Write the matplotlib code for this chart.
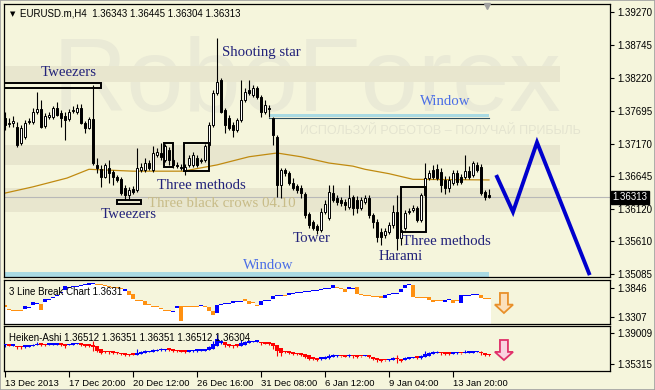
import numpy as np
import matplotlib.pyplot as plt
from matplotlib.patches import Rectangle, FancyArrow

plt.rcParams['font.family'] = ['Liberation Sans', 'DejaVu Sans']

BG = '#F5F5DC'
SERIF = ['Liberation Serif', 'DejaVu Serif']

# EURUSD.m H4 candles, 13 Dec 2013 .. 14 Jan 2014
opens = [
    1.3758, 1.3748, 1.3750, 1.3744, 1.3718, 1.3728, 1.3751, 1.3751, 1.3767, 1.3772,
    1.3745, 1.3760, 1.3760, 1.3774, 1.3766, 1.3761, 1.3756, 1.3769, 1.3767, 1.3774,
    1.3750, 1.3742, 1.3756, 1.3683, 1.3676, 1.3664, 1.3678, 1.3672, 1.3664, 1.3660,
    1.3646, 1.3635, 1.3645, 1.3643, 1.3675, 1.3675, 1.3686, 1.3675, 1.3699, 1.3702,
    1.3691, 1.3707, 1.3691, 1.3683, 1.3680, 1.3673, 1.3683, 1.3683, 1.3694, 1.3689,
    1.3691, 1.3715, 1.3747, 1.3798, 1.3819, 1.3771, 1.3758, 1.3747, 1.3739, 1.3755,
    1.3787, 1.3803, 1.3795, 1.3806, 1.3791, 1.3767, 1.3774, 1.3758, 1.3728, 1.3651,
    1.3675, 1.3670, 1.3654, 1.3649, 1.3646, 1.3636, 1.3605, 1.3592, 1.3585, 1.3579,
    1.3608, 1.3598, 1.3638, 1.3630, 1.3627, 1.3624, 1.3616, 1.3632, 1.3627, 1.3614,
    1.3624, 1.3630, 1.3603, 1.3592, 1.3576, 1.3571, 1.3576, 1.3587, 1.3608, 1.3566,
    1.3582, 1.3608, 1.3611, 1.3614, 1.3595, 1.3635, 1.3662, 1.3675, 1.3676, 1.3672,
    1.3659, 1.3646, 1.3654, 1.3670, 1.3664, 1.3664, 1.3673, 1.3667, 1.3683, 1.3680,
    1.3640, 1.36343]
highs = [
    1.3767, 1.3758, 1.3761, 1.3751, 1.3747, 1.3755, 1.3758, 1.3774, 1.3799, 1.3787,
    1.3766, 1.3767, 1.3777, 1.3783, 1.3771, 1.3767, 1.3772, 1.3777, 1.3780, 1.3780,
    1.3753, 1.3760, 1.3811, 1.3694, 1.3683, 1.3686, 1.3691, 1.3675, 1.3667, 1.3664,
    1.3651, 1.3648, 1.3649, 1.3710, 1.3686, 1.3694, 1.3691, 1.3713, 1.3710, 1.3718,
    1.3716, 1.3712, 1.3694, 1.3688, 1.3684, 1.3684, 1.3699, 1.3704, 1.3699, 1.3694,
    1.3716, 1.3751, 1.3803, 1.3886, 1.3822, 1.3774, 1.3763, 1.3751, 1.3758, 1.3819,
    1.3806, 1.3819, 1.3811, 1.3809, 1.3795, 1.3787, 1.3779, 1.3760, 1.3731, 1.3678,
    1.3678, 1.3673, 1.3662, 1.3652, 1.3651, 1.3640, 1.3608, 1.3595, 1.3589, 1.3614,
    1.3627, 1.3651, 1.3651, 1.3635, 1.3632, 1.3629, 1.3651, 1.3635, 1.3633, 1.3632,
    1.3635, 1.3635, 1.3606, 1.3597, 1.3582, 1.3582, 1.3592, 1.3619, 1.3635, 1.3587,
    1.3611, 1.3614, 1.3619, 1.3617, 1.3638, 1.3686, 1.3675, 1.3683, 1.3684, 1.3678,
    1.3665, 1.3665, 1.3675, 1.3675, 1.3668, 1.3699, 1.3681, 1.3689, 1.3688, 1.3684,
    1.3643, 1.36445]
lows = [
    1.3739, 1.3744, 1.3744, 1.3712, 1.3715, 1.3724, 1.3748, 1.3748, 1.3764, 1.3742,
    1.3742, 1.3756, 1.3756, 1.3761, 1.3744, 1.3723, 1.3753, 1.3766, 1.3764, 1.3748,
    1.3734, 1.3740, 1.3683, 1.3670, 1.3648, 1.3662, 1.3654, 1.3651, 1.3656, 1.3635,
    1.3627, 1.3627, 1.3636, 1.3640, 1.3672, 1.3672, 1.3675, 1.3672, 1.3696, 1.3691,
    1.3688, 1.3683, 1.3678, 1.3678, 1.3675, 1.3667, 1.3680, 1.3680, 1.3680, 1.3686,
    1.3688, 1.3712, 1.3744, 1.3795, 1.3766, 1.3734, 1.3739, 1.3728, 1.3736, 1.3751,
    1.3783, 1.3795, 1.3791, 1.3788, 1.3760, 1.3764, 1.3760, 1.3715, 1.3632, 1.3630,
    1.3665, 1.3651, 1.3643, 1.3638, 1.3630, 1.3598, 1.3582, 1.3579, 1.3573, 1.3576,
    1.3605, 1.3595, 1.3624, 1.3619, 1.3617, 1.3611, 1.3613, 1.3603, 1.3606, 1.3611,
    1.3621, 1.3598, 1.3582, 1.3560, 1.3555, 1.3566, 1.3573, 1.3582, 1.3547, 1.3555,
    1.3579, 1.3605, 1.3608, 1.3592, 1.3592, 1.3632, 1.3659, 1.3660, 1.3659, 1.3640,
    1.3636, 1.3640, 1.3651, 1.3651, 1.3652, 1.3660, 1.3660, 1.3664, 1.3672, 1.3635,
    1.3627, 1.36304]
closes = [
    1.3747, 1.3750, 1.3753, 1.3715, 1.3742, 1.3750, 1.3753, 1.3767, 1.3772, 1.3744,
    1.3761, 1.3763, 1.3774, 1.3763, 1.3758, 1.3755, 1.3767, 1.3771, 1.3774, 1.3750,
    1.3742, 1.3756, 1.3686, 1.3678, 1.3664, 1.3683, 1.3670, 1.3664, 1.3659, 1.3638,
    1.3635, 1.3643, 1.3640, 1.3678, 1.3680, 1.3686, 1.3678, 1.3702, 1.3704, 1.3696,
    1.3713, 1.3691, 1.3683, 1.3681, 1.3678, 1.3680, 1.3694, 1.3699, 1.3683, 1.3691,
    1.3713, 1.3747, 1.3798, 1.3815, 1.3767, 1.3747, 1.3742, 1.3739, 1.3755, 1.3787,
    1.3799, 1.3798, 1.3806, 1.3791, 1.3767, 1.3779, 1.3772, 1.3731, 1.3651, 1.3675,
    1.3670, 1.3654, 1.3646, 1.3643, 1.3638, 1.3603, 1.3587, 1.3582, 1.3579, 1.3608,
    1.3621, 1.3640, 1.3627, 1.3624, 1.3622, 1.3619, 1.3630, 1.3614, 1.3614, 1.3627,
    1.3630, 1.3603, 1.3592, 1.3568, 1.3568, 1.3578, 1.3587, 1.3608, 1.3566, 1.3579,
    1.3606, 1.3610, 1.3614, 1.3595, 1.3635, 1.3662, 1.3670, 1.3664, 1.3662, 1.3651,
    1.3646, 1.3659, 1.3670, 1.3656, 1.3656, 1.3673, 1.3664, 1.3686, 1.3675, 1.3638,
    1.3632, 1.36313]

# moving average
ma_bars = [0, 7, 15.5, 21, 32, 44.5, 53, 61, 68, 74, 81, 87, 90, 96, 102, 121]
ma_vals = [1.3638, 1.3648, 1.3662, 1.3676, 1.3673, 1.3673, 1.3683, 1.3696, 1.3702,
           1.3696, 1.3686, 1.3681, 1.3676, 1.3669, 1.3660, 1.3659]

# 3 Line Break Chart indicator (top / bottom of each brick, o = down, b = up)
lb_top = [
    1.3530, 1.3455, 1.3437, 1.3437, 1.3437, 1.3511, 1.3493, 1.3586, 1.3567, 1.3548,
    1.3641, 1.3641, 1.3679, 1.3716, 1.3772, 1.3883, 1.3865, 1.3883, 1.3883, 1.3902,
    1.3920, 1.3939, 1.3939, 1.3920, 1.3920, 1.3902, 1.3883, 1.3865, 1.3865, 1.3846,
    1.3827, 1.3790, 1.3734, 1.3623, 1.3623, 1.3604, 1.3548, 1.3511, 1.3511, 1.3474,
    1.3437, 1.3437, 1.3418, 1.3511, 1.3511, 1.3511, 1.3511, 1.3511, 1.3511, 1.3530,
    1.3511, 1.3493, 1.3418, 1.3530, 1.3548, 1.3567, 1.3567, 1.3604, 1.3604, 1.3604,
    1.3641, 1.3604, 1.3586, 1.3530, 1.3604, 1.3623, 1.3623, 1.3697, 1.3716, 1.3716,
    1.3716, 1.3753, 1.3753, 1.3772, 1.3772, 1.3790, 1.3790, 1.3809, 1.3809, 1.3827,
    1.3846, 1.3846, 1.3902, 1.3865, 1.3846, 1.3827, 1.3865, 1.3846, 1.3865, 1.3734,
    1.3716, 1.3716, 1.3697, 1.3697, 1.3697, 1.3716, 1.3734, 1.3753, 1.3753, 1.3827,
    1.3902, 1.3920, 1.3902, 1.3679, 1.3679, 1.3679, 1.3679, 1.3623, 1.3623, 1.3623,
    1.3623, 1.3641, 1.3623, 1.3623, 1.3716, 1.3716, 1.3716, 1.3734, 1.3734, 1.3716,
    1.3660, 1.3660]
lb_bot = [
    1.3493, 1.3437, 1.3418, 1.3418, 1.3418, 1.3455, 1.3474, 1.3530, 1.3548, 1.3437,
    1.3586, 1.3623, 1.3660, 1.3697, 1.3753, 1.3809, 1.3846, 1.3865, 1.3865, 1.3883,
    1.3902, 1.3902, 1.3920, 1.3902, 1.3902, 1.3883, 1.3865, 1.3846, 1.3846, 1.3827,
    1.3790, 1.3716, 1.3641, 1.3604, 1.3604, 1.3530, 1.3530, 1.3493, 1.3493, 1.3455,
    1.3418, 1.3418, 1.3399, 1.3474, 1.3232, 1.3493, 1.3493, 1.3493, 1.3493, 1.3511,
    1.3493, 1.3418, 1.3344, 1.3381, 1.3530, 1.3548, 1.3548, 1.3567, 1.3586, 1.3586,
    1.3604, 1.3548, 1.3567, 1.3511, 1.3530, 1.3604, 1.3604, 1.3641, 1.3697, 1.3697,
    1.3697, 1.3716, 1.3734, 1.3753, 1.3753, 1.3772, 1.3772, 1.3790, 1.3790, 1.3809,
    1.3827, 1.3827, 1.3846, 1.3846, 1.3827, 1.3772, 1.3827, 1.3827, 1.3734, 1.3716,
    1.3697, 1.3697, 1.3679, 1.3679, 1.3660, 1.3660, 1.3716, 1.3734, 1.3734, 1.3772,
    1.3846, 1.3902, 1.3679, 1.3660, 1.3660, 1.3660, 1.3623, 1.3586, 1.3604, 1.3604,
    1.3586, 1.3623, 1.3567, 1.3604, 1.3567, 1.3697, 1.3697, 1.3716, 1.3716, 1.3660,
    1.3641, 1.3641]
lb_col = ("ooooo" "bbbb" "o" "bbbbbbbbbbbbb" "ooooooo" "b" "ooooooooooo" "bb" "ooooo"
          "b" "ooo" "bbbbbbb" "oooo" "bbbbbb" "o" "bbbbbbbbbbbb" "ooo" "bb" "ooooooo"
          "bbbbbbb" "oooooooo" "bb" "oo" "bbbbb" "ooo")

# forecast zigzag
fc_bars = [123, 127, 133, 146]
fc_vals = [1.3664, 1.3608, 1.3719, 1.3510]

price_ticks = [1.39270, 1.38745, 1.38220, 1.37695, 1.37170, 1.36645, 1.36120, 1.35610, 1.35085]
lb_ticks = [1.3846, 1.3307]
ha_ticks = [1.39009, 1.35315]
date_ticks = [0, 16, 32, 48, 64, 80, 96, 112]
date_labels = ['13 Dec 2013', '17 Dec 20:00', '20 Dec 12:00', '26 Dec 16:00',
               '31 Dec 08:00', '6 Jan 12:00', '9 Jan 04:00', '13 Jan 20:00']
last_price = 1.36313

o = np.array(opens); h = np.array(highs); l = np.array(lows); c = np.array(closes)
bars = np.arange(len(c))


def px(x0, y0, x1, y1):
    return [x0 / 655, 1 - y1 / 390, (x1 - x0) / 655, (y1 - y0) / 390]


fig = plt.figure(figsize=(6.55, 3.9), dpi=100, facecolor=BG)
ax = fig.add_axes(px(4, 4, 610, 277), facecolor=BG)
ax1 = fig.add_axes(px(4, 280, 610, 324), facecolor=BG)
ax2 = fig.add_axes(px(4, 326, 610, 371), facecolor=BG)

for a in (ax, ax1, ax2):
    a.set_xlim(-0.25, 151.25)
    for s in a.spines.values():
        s.set_color('black')
        s.set_linewidth(0.9)
    a.yaxis.tick_right()
    a.tick_params(axis='y', direction='out', length=3, pad=2, labelsize=7, colors='black')
    a.set_xticks([])

ax.set_ylim(1.35041, 1.39398)
ax1.set_ylim(1.3176, 1.3995)
ax2.set_ylim(1.34481, 1.39843)

# ---- watermark ----
for y0, y1 in [(1.3815, 1.3841), (1.3683, 1.3715), (1.3608, 1.3646)]:
    ax.add_patch(Rectangle((-0.25, y0), 139, y1 - y0, color='#E8E6CE', lw=0, zorder=0.3))
fig.text(53 / 655, 1 - 110 / 390, 'RoboForex', fontsize=74, color='#EAEAD6',
         va='baseline', ha='left', zorder=0.4)
fig.text(300 / 655, 1 - 134 / 390, 'ИСПОЛЬЗУЙ РОБОТОВ – ПОЛУЧАЙ ПРИБЫЛЬ', fontsize=9,
         color='#E4E4D0', va='baseline', ha='left', zorder=0.4)
ax.set_zorder(1); ax.patch.set_alpha(0)

# ---- main chart ----
ax.axhline(last_price, color='#B8B8B8', lw=0.8, zorder=1)
ax.plot(ma_bars, ma_vals, color='#C08A10', lw=0.9, zorder=1.5)

up = c >= o
ax.vlines(bars, l, h, color='black', lw=0.8, zorder=3)
ax.bar(bars, np.abs(c - o), bottom=np.minimum(o, c), width=0.5,
       color=np.where(up, 'white', 'black'), edgecolor='black', lw=0.7, zorder=4)

# pattern boxes
boxes = [(-0.25, 1.3806, 24.25, 0.0008), (28, 1.3621, 6, 0.0006),
         (39.75, 1.3680, 2.25, 0.0038), (44.75, 1.3673, 6.25, 0.0045),
         (99, 1.3576, 6.25, 0.0072)]
for x0, y0, w, hh in boxes:
    ax.add_patch(Rectangle((x0, y0), w, hh, fill=False, ec='black', lw=1.4, zorder=5))

# windows
ax.add_patch(Rectangle((66, 1.3759), 55, 0.0005, color='#A9DAE3', lw=0, zorder=2))
ax.plot([66, 121], [1.3758, 1.3758], color='#2F4F5F', lw=0.8, zorder=2)
ax.add_patch(Rectangle((-0.25, 1.3500), 121.25, 0.0012, color='#A9DAE3', lw=0, zorder=2))

# forecast
ax.plot(fc_bars, fc_vals, color='#0000CD', lw=2.8, zorder=6, solid_joinstyle='miter')

navy = '#22227A'
blue = '#4B6EE6'
notes = [('Tweezers', 16, 1.3825, navy, 'center'),
         ('Shooting star', 54.25, 1.3857, navy, 'left'),
         ('Window', 103.75, 1.3779, blue, 'left'),
         ('Three methods', 38, 1.3645, navy, 'left'),
         ('Three black crows 04.10', 35.75, 1.3616, '#C8BC88', 'left'),
         ('Tweezers', 24, 1.3598, navy, 'left'),
         ('Tower', 72, 1.3560, navy, 'left'),
         ('Three methods', 99.25, 1.3555, navy, 'left'),
         ('Harami', 93.5, 1.3531, navy, 'left'),
         ('Window', 59.5, 1.3517, blue, 'left')]
for txt, x, y, col, ha in notes:
    ax.text(x, y, txt, family=SERIF, fontsize=10.7, color=col, ha=ha, va='baseline', zorder=7)

ax.set_yticks(price_ticks)
ax.set_yticklabels(['%.5f' % v for v in price_ticks])
ax.text(1.004, last_price, '1.36313', transform=ax.get_yaxis_transform(), ha='left',
        va='center', color='white', fontsize=7, clip_on=False, zorder=10,
        bbox=dict(boxstyle='square,pad=0.18', fc='black', ec='black'))
ax.plot(120.5, 1.3936, marker='v', ms=5, color='#A0A0A0', clip_on=False, zorder=8)

fig.text(10 / 655, 1 - 16 / 390, '▼', fontsize=5, family=['DejaVu Sans'], va='baseline')
fig.text(20 / 655, 1 - 16.5 / 390, 'EURUSD.m,H4  1.36343 1.36445 1.36304 1.36313',
         fontsize=7, va='baseline')

# ---- 3 Line Break ----
lb_top = np.array(lb_top); lb_bot = np.array(lb_bot)
lo1 = ax1.get_ylim()[0]
ax1.bar(bars, lb_bot - lo1, bottom=lo1, width=1.0, color='white', lw=0, antialiased=False, zorder=1)
lb_colors = ['#FF9010' if ch == 'o' else '#0000FF' for ch in lb_col]
ax1.bar(bars, lb_top - lb_bot, bottom=lb_bot, width=0.95, color=lb_colors, lw=0, zorder=2)
ax1.set_yticks(lb_ticks)
ax1.set_yticklabels(['%.4f' % v for v in lb_ticks])
ax1.text(0.008, 0.66, '3 Line Break Chart 1.3631', transform=ax1.transAxes, fontsize=7,
         va='baseline', zorder=5)
ax1.add_patch(FancyArrow(0.825, 0.705, 0, -0.455, width=0.0132, head_width=0.03,
                         head_length=0.19, length_includes_head=True, transform=ax1.transAxes,
                         fc='#FBE0BC', ec='#E8902A', lw=1.3, zorder=5))

# ---- Heiken-Ashi ----
ha_c = (o + h + l + c) / 4
ha_o = np.empty_like(ha_c)
ha_o[0] = (o[0] + c[0]) / 2
for i in range(1, len(ha_c)):
    ha_o[i] = (ha_o[i - 1] + ha_c[i - 1]) / 2
ha_h = np.maximum.reduce([h, ha_o, ha_c])
ha_l = np.minimum.reduce([l, ha_o, ha_c])
ha_col = np.where(ha_c >= ha_o, '#0000FF', '#FF0000')
ax2.vlines(bars, ha_l, ha_h, colors=ha_col, lw=0.8, zorder=2)
ax2.bar(bars, np.maximum(np.abs(ha_c - ha_o), 0.0018), bottom=np.minimum(ha_o, ha_c),
        width=0.8, color=ha_col, lw=0, zorder=3)
ax2.set_yticks(ha_ticks)
ax2.set_yticklabels(['%.5f' % v for v in ha_ticks])
ax2.text(0.008, 0.667, 'Heiken-Ashi 1.36512 1.36351 1.36351 1.36512 1.36304',
         transform=ax2.transAxes, fontsize=7, va='baseline', zorder=5)
ax2.add_patch(FancyArrow(0.825, 0.689, 0, -0.445, width=0.0132, head_width=0.03,
                         head_length=0.18, length_includes_head=True, transform=ax2.transAxes,
                         fc='#F9D2E0', ec='#E0306A', lw=1.3, zorder=5))
ax2.set_xticks(date_ticks)
ax2.set_xticklabels(date_labels, ha='left')
ax2.tick_params(axis='x', direction='out', length=4, pad=2, labelsize=6.8)

fig.patches.append(Rectangle((0, 0), 1, 1, transform=fig.transFigure, fill=False,
                             ec='#A0A0A0', lw=1.2))

fig.savefig('out.png', dpi=100, facecolor=BG)
